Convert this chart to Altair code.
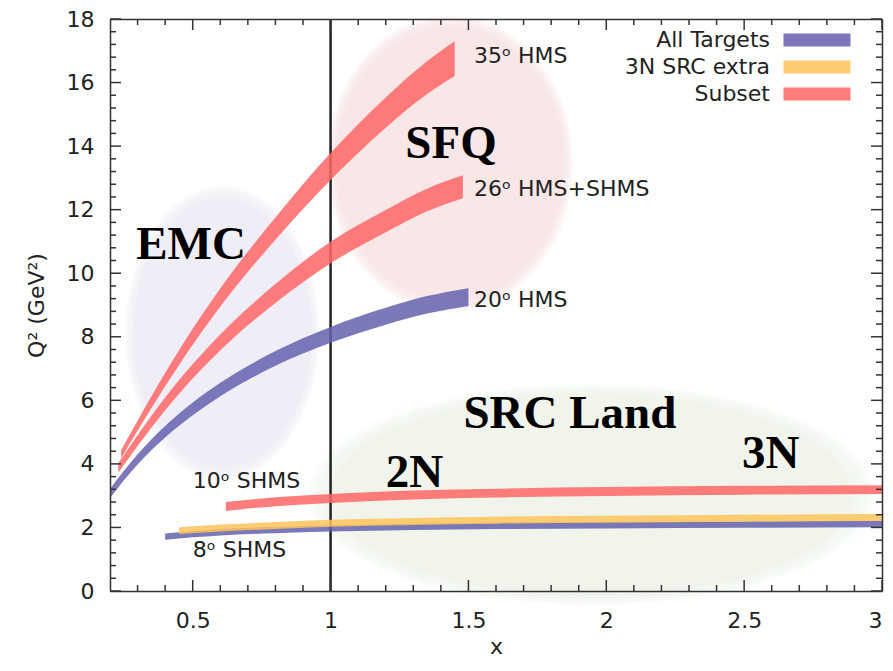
import altair as alt
import pandas as pd

# ---------------- data ----------------
groups = ["All Targets", "3N SRC extra", "Subset"]
group_colors = ["#6462ae", "#ffc35a", "#ff6666"]

# 20 deg HMS  (All Targets)
x_20 = [0.20, 0.30, 0.40, 0.50, 0.60, 0.70, 0.80, 1.00, 1.20, 1.35, 1.50]
lo_20 = [2.93, 3.98, 4.83, 5.53, 6.13, 6.64, 7.09, 7.81, 8.38, 8.73, 8.97]
hi_20 = [3.21, 4.30, 5.19, 5.93, 6.55, 7.08, 7.55, 8.31, 8.91, 9.28, 9.53]

# 8 deg SHMS  (All Targets)
x_8 = [0.40, 0.50, 0.60, 0.80, 1.00, 1.30, 1.60, 2.00, 2.50, 3.00]
lo_8 = [1.61, 1.69, 1.75, 1.82, 1.87, 1.92, 1.95, 1.97, 1.99, 2.01]
hi_8 = [1.81, 1.89, 1.95, 2.02, 2.07, 2.12, 2.15, 2.17, 2.19, 2.21]

# 3N SRC extra
x_3n = [0.45, 0.60, 0.80, 1.00, 1.30, 1.60, 2.00, 2.50, 3.00]
lo_3n = [1.79, 1.87, 1.95, 2.02, 2.08, 2.12, 2.15, 2.18, 2.20]
hi_3n = [2.01, 2.09, 2.17, 2.24, 2.30, 2.34, 2.37, 2.40, 2.42]

# 35 deg HMS  (Subset)
x_35 = [0.24, 0.30, 0.40, 0.50, 0.64, 0.80, 1.00, 1.20, 1.35, 1.45]
lo_35 = [4.17, 5.04, 6.44, 7.75, 9.40, 11.05, 12.93, 14.58, 15.64, 16.21]
hi_35 = [4.43, 5.36, 6.86, 8.25, 10.00, 11.75, 13.78, 15.53, 16.67, 17.30]

# 26 deg HMS+SHMS  (Subset)
x_26 = [0.23, 0.30, 0.40, 0.50, 0.64, 0.80, 1.00, 1.20, 1.35, 1.48]
lo_26 = [3.72, 4.56, 5.69, 6.69, 7.90, 9.06, 10.31, 11.29, 11.95, 12.36]
hi_26 = [4.02, 4.90, 6.09, 7.14, 8.42, 9.66, 10.99, 11.99, 12.66, 13.08]

# 10 deg SHMS  (Subset)
x_10 = [0.62, 0.80, 1.00, 1.30, 1.60, 2.00, 2.50, 3.00]
lo_10 = [2.52, 2.67, 2.77, 2.88, 2.94, 2.99, 3.03, 3.05]
hi_10 = [2.80, 2.95, 3.05, 3.16, 3.22, 3.27, 3.31, 3.33]

band_defs = [
    ("20 HMS", "All Targets", x_20, lo_20, hi_20),
    ("8 SHMS", "All Targets", x_8, lo_8, hi_8),
    ("3N", "3N SRC extra", x_3n, lo_3n, hi_3n),
    ("35 HMS", "Subset", x_35, lo_35, hi_35),
    ("26 HMS", "Subset", x_26, lo_26, hi_26),
    ("10 SHMS", "Subset", x_10, lo_10, hi_10),
]

# small annotation labels
small_labels = ["35ᵒ HMS", "26ᵒ HMS+SHMS", "20ᵒ HMS", "10ᵒ SHMS", "8ᵒ SHMS"]
small_x = [1.52, 1.52, 1.52, 0.50, 0.50]
small_y = [16.84, 12.66, 9.16, 3.47, 1.28]

# big region labels
big_labels = ["SFQ", "EMC", "SRC Land", "2N", "3N"]
big_x = [1.437, 0.494, 1.868, 1.304, 2.596]
big_y = [13.62, 10.45, 5.14, 3.27, 3.88]

# regions (ellipse centres)
region_names = ["EMC", "SFQ", "SRC"]
region_x = [0.608, 1.433, 1.945]
region_y = [8.13, 13.45, 3.03]
region_colors = ["#efedf5", "#f9e6e6", "#f0f4ea"]

# tick values
x_major = [0.5, 1.0, 1.5, 2.0, 2.5, 3.0]
x_minor = [0.3, 0.4, 0.6, 0.7, 0.8, 0.9, 1.1, 1.2, 1.3, 1.4, 1.6, 1.7, 1.8, 1.9,
           2.1, 2.2, 2.3, 2.4, 2.6, 2.7, 2.8, 2.9]
y_major = [0, 2, 4, 6, 8, 10, 12, 14, 16, 18]
y_minor = [v / 10 for v in range(4, 180, 4) if v % 20 != 0]

# ---------------- build tables ----------------
rows = []
for name, grp, xs, los, his in band_defs:
    for xv, lv, hv in zip(xs, los, his):
        rows.append({"band": name, "group": grp, "x": xv, "lo": lv, "hi": hv})
band_df = pd.DataFrame(rows)

small_df = pd.DataFrame({"label": small_labels, "x": small_x, "y": small_y})
big_df = pd.DataFrame({"label": big_labels, "x": big_x, "y": big_y})

W, H = 772, 572
xscale = alt.Scale(domain=[0.2, 3.0], nice=False, zero=False)
yscale = alt.Scale(domain=[0, 18], nice=False, zero=False)

FONT = "DejaVu Sans"
AX = "#333333"
TICK = "#333333"
FS = 22
MAJ, MIN = 11, 6

x_axis_main = alt.Axis(
    orient="bottom", values=x_major, ticks=False, tickSize=0, domain=True,
    domainColor=AX, domainWidth=1.5, labelFont=FONT, labelFontSize=FS,
    labelColor="#222222", labelPadding=19, labelFlush=True, format="~g",
    title="x", titleFont=FONT, titleFontSize=FS, titleFontWeight="normal",
    titleColor="#222222", titlePadding=5, grid=False, zindex=2,
)
y_axis_main = alt.Axis(
    orient="left", values=y_major, ticks=False, tickSize=0, domain=True,
    domainColor=AX, domainWidth=1.5, labelFont=FONT, labelFontSize=FS,
    labelColor="#222222", labelPadding=16, labelFlush=False, format="~g",
    title="Q² (GeV²)", titleFont=FONT, titleFontSize=FS, titleFontWeight="normal",
    titleColor="#222222", titlePadding=18, grid=False, zindex=2,
)
# top / right frame lines
x_axis_top = alt.Axis(orient="bottom", offset=-H, labels=False, ticks=False,
                      domain=True, domainColor=AX, domainWidth=1.5, grid=False,
                      title=None, zindex=2)
y_axis_right = alt.Axis(orient="left", offset=-W, labels=False, ticks=False,
                        domain=True, domainColor=AX, domainWidth=1.5, grid=False,
                        title=None, zindex=2)


def ellipse_path(a):
    k = 0.5523
    return (f"M 0 -1 C {k*a:.4f} -1 {a:.4f} {-k:.4f} {a:.4f} 0 "
            f"C {a:.4f} {k:.4f} {k*a:.4f} 1 0 1 "
            f"C {-k*a:.4f} 1 {-a:.4f} {k:.4f} {-a:.4f} 0 "
            f"C {-a:.4f} {-k:.4f} {-k*a:.4f} -1 0 -1 Z")


# ellipse style: (aspect a = semi_x/semi_y, full height px)
ellipse_style = {"EMC": (0.66, 282), "SFQ": (0.83, 285), "SRC": (2.56, 212)}
halo = [(1.04, 0.3), (1.02, 0.3), (1.0, 0.3), (0.98, 0.3), (0.96, 1.0)]

layers = []
first = True
for name, ex, ey, col in zip(region_names, region_x, region_y, region_colors):
    a, hpx = ellipse_style[name]
    edf = pd.DataFrame({"region": [name], "x": [ex], "y": [ey]})
    for scale_f, op in halo:
        ax_x = x_axis_top if first else None
        ax_y = y_axis_right if first else None
        first = False
        layers.append(
            alt.Chart(edf).mark_point(
                shape=ellipse_path(a), size=(hpx * scale_f) ** 2, filled=True,
                fill=col, fillOpacity=op, strokeWidth=0, opacity=1,
            ).encode(
                x=alt.X("x:Q", scale=xscale, axis=ax_x),
                y=alt.Y("y:Q", scale=yscale, axis=ax_y),
            )
        )

# vertical line at x = 1
vline = alt.Chart(pd.DataFrame({"x": [1.0]})).mark_rule(
    color="#222222", strokeWidth=2.5
).encode(
    x=alt.X("x:Q", scale=xscale, axis=None),
    y=alt.datum(0, scale=yscale, axis=None),
    y2=alt.datum(18),
)
layers.append(vline)

legend = alt.Legend(
    orient="none", legendX=638, legendY=10, title=None, padding=0,
    symbolType="M 3.77 -1 L 14.08 -1 L 14.08 1 L 3.77 1 Z", symbolSize=169,
    symbolStrokeWidth=0, symbolOpacity=0.85, labelAlign="right", labelOffset=0,
    labelFont=FONT, labelFontSize=FS, labelColor="#222222", rowPadding=5,
)

bands = alt.Chart(band_df).mark_area(opacity=0.85, interpolate="monotone").encode(
    x=alt.X("x:Q", scale=xscale, axis=x_axis_main),
    y=alt.Y("lo:Q", scale=yscale, axis=y_axis_main),
    y2="hi:Q",
    color=alt.Color("group:N", scale=alt.Scale(domain=groups, range=group_colors),
                    legend=legend),
    detail="band:N",
)
layers.append(bands)

small_text = alt.Chart(small_df).mark_text(
    align="left", baseline="middle", font=FONT, fontSize=FS, color="#222222"
).encode(
    x=alt.X("x:Q", scale=xscale, axis=None),
    y=alt.Y("y:Q", scale=yscale, axis=None),
    text="label:N",
)
layers.append(small_text)

big_text = alt.Chart(big_df).mark_text(
    align="center", baseline="alphabetic", font="Liberation Serif",
    fontWeight="bold", fontSize=47, color="#000000"
).encode(
    x=alt.X("x:Q", scale=xscale, axis=None),
    y=alt.Y("y:Q", scale=yscale, axis=None),
    text="label:N",
)
layers.append(big_text)

# inward frame ticks, drawn from the tick value lists
for vals, length in [(x_major, MAJ), (x_minor, MIN)]:
    tdf = pd.DataFrame({"v": vals})
    for y0, y1 in [(H, H - length), (0, length)]:
        layers.append(
            alt.Chart(tdf).mark_rule(color=TICK, strokeWidth=1.5).encode(
                x=alt.X("v:Q", scale=xscale, axis=None),
                y=alt.value(y0), y2=alt.value(y1),
            )
        )
for vals, length in [(y_major, MAJ), (y_minor, MIN)]:
    tdf = pd.DataFrame({"v": vals})
    for x0, x1 in [(0, length), (W, W - length)]:
        layers.append(
            alt.Chart(tdf).mark_rule(color=TICK, strokeWidth=1.5).encode(
                y=alt.Y("v:Q", scale=yscale, axis=None),
                x=alt.value(x0), x2=alt.value(x1),
            )
        )

chart = alt.layer(*layers).resolve_axis(x="independent", y="independent").properties(
    width=W, height=H, autosize=alt.AutoSizeParams(type="none"),
    padding={"left": 102, "top": 11, "right": 3, "bottom": 72},
    background="white",
).configure_view(strokeOpacity=0)

chart.save("out.html", embed_options={"renderer": "svg", "actions": False})
